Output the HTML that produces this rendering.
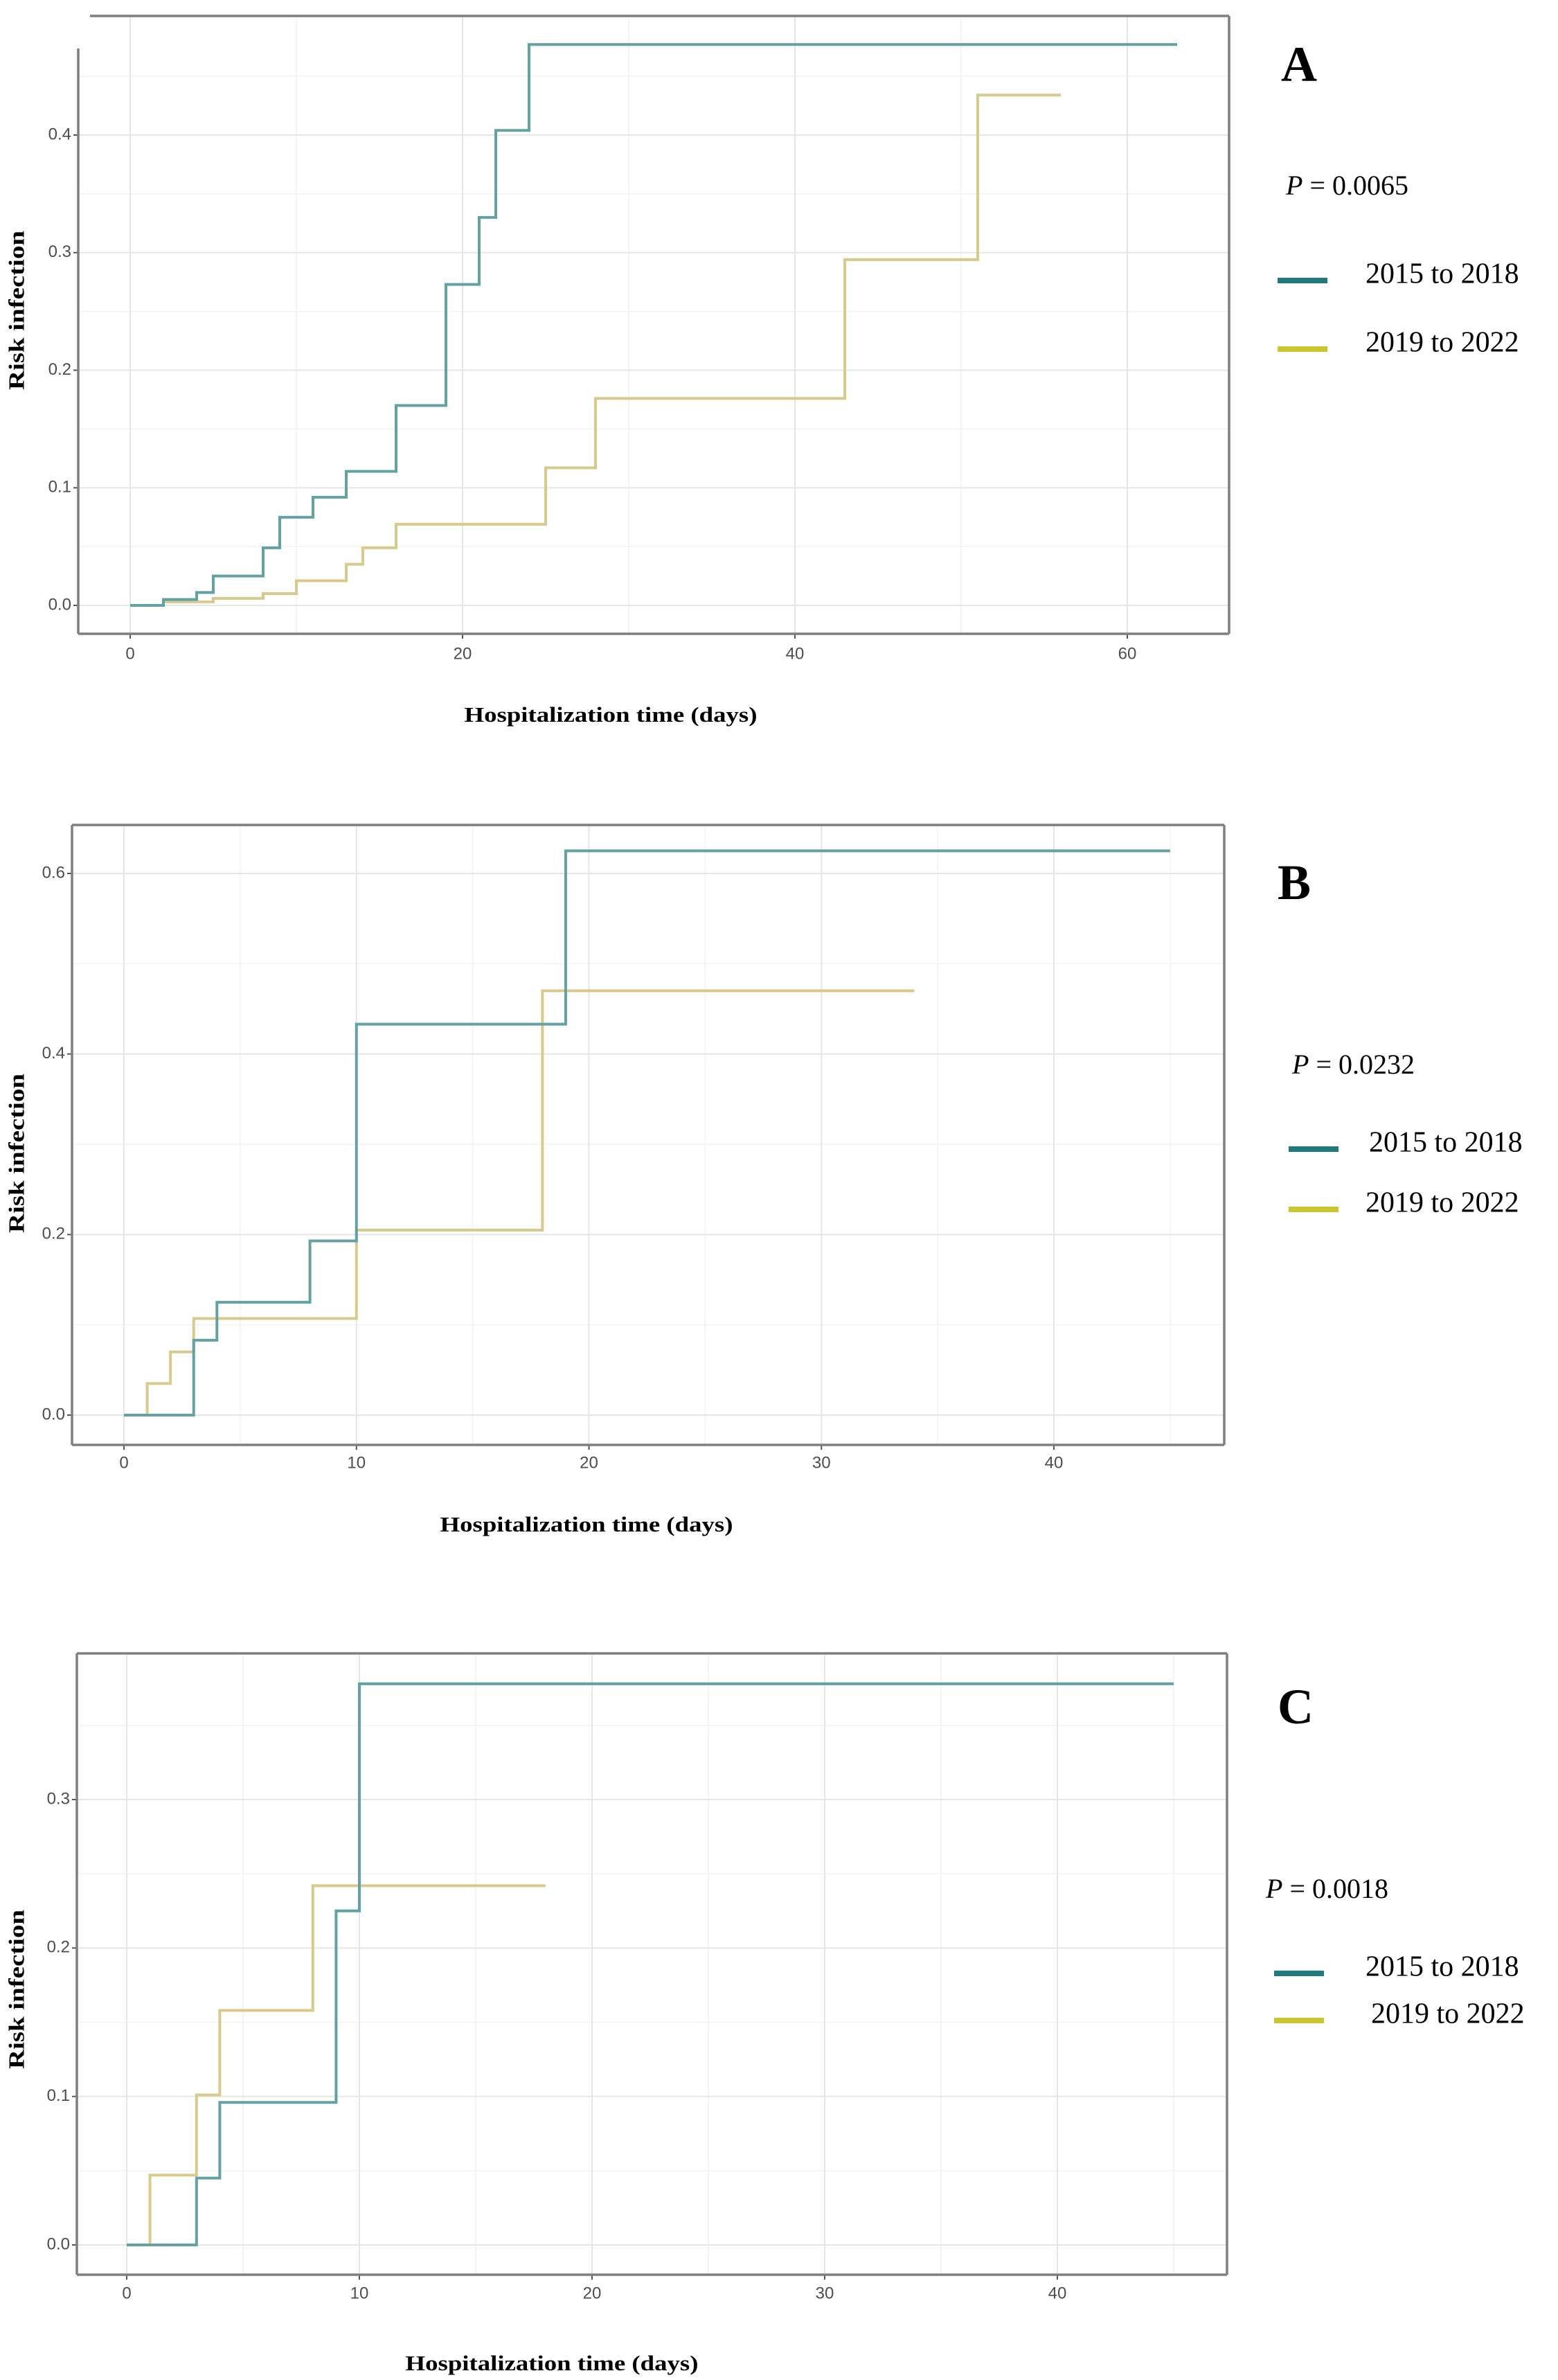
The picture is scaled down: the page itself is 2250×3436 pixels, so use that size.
<!DOCTYPE html>
<html><head><meta charset="utf-8">
<style>
html,body{margin:0;padding:0;background:#fff;}
svg{display:block;}
.tick{font-family:"Liberation Sans",sans-serif;font-size:24px;fill:#4d4d4d;}
.ttl{font-family:"Liberation Serif",serif;font-weight:bold;fill:#000;}
.leg{font-family:"Liberation Serif",serif;fill:#000;}
</style></head>
<body>
<svg id="chart" width="2250" height="3436" viewBox="0 0 2250 3436" xmlns="http://www.w3.org/2000/svg"></svg>
<script>
// Panel A data
const aTealX = [0,2,4,5,8,9,11,13,16,19,21,22,24,63];
const aTealY = [0,0.005,0.011,0.025,0.049,0.075,0.092,0.114,0.17,0.273,0.33,0.404,0.477,0.477];
const aYelX = [0,2,5,8,10,13,14,16,25,28,43,51,56];
const aYelY = [0,0.003,0.006,0.01,0.021,0.035,0.049,0.069,0.117,0.176,0.294,0.434,0.434];
const aXTicks = [0,20,40,60];
const aYTicks = [0,0.1,0.2,0.3,0.4];
const aXLabels = ["0","20","40","60"];
const aYLabels = ["0.0","0.1","0.2","0.3","0.4"];
const aP = "0.0065";
// Panel B data
const bTealX = [0,1,3,4,8,10,19,45];
const bTealY = [0,0,0.083,0.125,0.193,0.433,0.625,0.625];
const bYelX = [0,1,2,3,10,18,34];
const bYelY = [0,0.035,0.07,0.107,0.205,0.47,0.47];
const bXTicks = [0,10,20,30,40];
const bYTicks = [0,0.2,0.4,0.6];
const bXLabels = ["0","10","20","30","40"];
const bYLabels = ["0.0","0.2","0.4","0.6"];
const bP = "0.0232";
// Panel C data
const cTealX = [0,1,3,4,9,10,45];
const cTealY = [0,0,0.045,0.096,0.225,0.378,0.378];
const cYelX = [0,1,3,4,8,18];
const cYelY = [0,0.047,0.101,0.158,0.242,0.242];
const cXTicks = [0,10,20,30,40];
const cYTicks = [0,0.1,0.2,0.3];
const cXLabels = ["0","10","20","30","40"];
const cYLabels = ["0.0","0.1","0.2","0.3"];
const cP = "0.0018";

const NS = "http://www.w3.org/2000/svg";
const svg = document.getElementById("chart");
function mk(tag, attrs, parent){
  const e = document.createElementNS(NS, tag);
  for (const k in attrs) e.setAttribute(k, attrs[k]);
  (parent||svg).appendChild(e);
  return e;
}
function stepPath(xs, ys, sx, sy){
  let d = "M" + sx(xs[0]) + "," + sy(ys[0]);
  for (let i=1;i<xs.length;i++){
    d += " H" + sx(xs[i]) + " V" + sy(ys[i]);
  }
  return d;
}
function panel(cfg){
  const g = mk("g", {});
  
  
  const sx = v => cfg.x0 + (v - 0) * (cfg.x1 - cfg.x0) / cfg.xMaxTick;
  const sy = v => cfg.y0 - v * (cfg.y0 - cfg.y1) / cfg.yMaxTick;
  // minor grid
  const xStep = cfg.xTicks[1]-cfg.xTicks[0], yStep = cfg.yTicks[1]-cfg.yTicks[0];
  for (let v = xStep/2; sx(v) < cfg.R; v += xStep){
    const l = mk("line",{x1:sx(v),x2:sx(v),y1:cfg.T,y2:cfg.B,stroke:"#f2f2f2","stroke-width":1.5},g);
    
    
  }
  for (let v = yStep/2; sy(v) > cfg.T; v += yStep){
    const l = mk("line",{x1:cfg.L,x2:cfg.R,y1:sy(v),y2:sy(v),stroke:"#f2f2f2","stroke-width":1.5},g);
    
    
  }
  cfg.xTicks.forEach((v,i)=>{
    const l = mk("line",{x1:sx(v),x2:sx(v),y1:cfg.T,y2:cfg.B,stroke:"#e6e6e6","stroke-width":2},g);
    
    
    const t = mk("line",{x1:sx(v),x2:sx(v),y1:cfg.B,y2:cfg.B+7,stroke:"#555","stroke-width":2},g);
    
    
    const tx = mk("text",{x:sx(v),y:cfg.xLabY,"text-anchor":"middle","dominant-baseline":"middle",class:"tick"},g);
    tx.textContent = cfg.xLabels[i];
    
    
  });
  cfg.yTicks.forEach((v,i)=>{
    const l = mk("line",{x1:cfg.L,x2:cfg.R,y1:sy(v),y2:sy(v),stroke:"#e6e6e6","stroke-width":2},g);
    
    
    const t = mk("line",{x1:cfg.L-7,x2:cfg.L,y1:sy(v),y2:sy(v),stroke:"#555","stroke-width":2},g);
    
    
    const tx = mk("text",{x:cfg.L-10,y:sy(v),"text-anchor":"end","dominant-baseline":"middle",class:"tick"},g);
    tx.textContent = cfg.yLabels[i];
    
    
  });
  // curves
  const p2 = mk("path",{d:stepPath(cfg.yelX,cfg.yelY,sx,sy),fill:"none",stroke:"#d8c98c","stroke-width":4},g);
  
  
  const p1 = mk("path",{d:stepPath(cfg.tealX,cfg.tealY,sx,sy),fill:"none",stroke:"#62a2a2","stroke-width":4},g);
  
  
  // border
  const bs = {stroke:"#7f7f7f","stroke-width":3.5,fill:"none"};
  const topL = mk("line",Object.assign({x1:cfg.topStart,x2:cfg.R,y1:cfg.T,y2:cfg.T},bs),g);
  
  
  const rL = mk("line",Object.assign({x1:cfg.R,x2:cfg.R,y1:cfg.T,y2:cfg.B},bs),g);
  
  
  const bL = mk("line",Object.assign({x1:cfg.L,x2:cfg.R,y1:cfg.B,y2:cfg.B},bs),g);
  
  
  const lL = mk("line",Object.assign({x1:cfg.L,x2:cfg.L,y1:cfg.leftStart,y2:cfg.B},bs),g);
  
  
  // titles
  const xt = mk("text",{x:cfg.xTitleX,y:cfg.xTitleY,"text-anchor":"middle","dominant-baseline":"middle",class:"ttl","font-size":31,textLength:423,lengthAdjust:"spacingAndGlyphs"},g);
  xt.textContent = "Hospitalization time (days)";
  
  
  const yt = mk("text",{x:0,y:0,"text-anchor":"middle","dominant-baseline":"middle",class:"ttl","font-size":32,textLength:230,lengthAdjust:"spacingAndGlyphs",transform:"translate(27,"+cfg.yTitleY+") rotate(-90)"},g);
  yt.textContent = "Risk infection";
  
  
  const lab = mk("text",{x:cfg.labX,y:cfg.labY,class:"ttl","font-size":72},g);
  lab.textContent = cfg.letter;
  
  
  const p = mk("text",{x:cfg.pX,y:cfg.pY,"dominant-baseline":"middle",class:"leg","font-size":40},g);
  
  
  const pi = mk("tspan",{"font-style":"italic"},p); pi.textContent = "P";
  const pr = mk("tspan",{},p); pr.textContent = " = " + cfg.pv;
  // legend
  const leg = [["2015 to 2018","#1f7b7b",cfg.leg1Y,cfg.leg1TX],["2019 to 2022","#c9c62e",cfg.leg2Y,cfg.leg2TX]];
  leg.forEach((e,i)=>{
    const l = mk("line",{x1:cfg.legX,x2:cfg.legX+72,y1:e[2],y2:e[2],stroke:e[1],"stroke-width":8},g);
    
    
    const t = mk("text",{x:e[3],y:e[2]-6,"dominant-baseline":"middle",class:"leg","font-size":42},g);
    t.textContent = e[0];
    
    
  });
}
panel({name:"panel-a",letter:"A",pv:aP,L:113,R:1775,T:23,B:915,topStart:130,leftStart:70,
  x0:188,x1:1628,xMaxTick:60,y0:874,y1:195,yMaxTick:0.4,
  xTicks:aXTicks,yTicks:aYTicks,xLabels:aXLabels,yLabels:aYLabels,
  tealX:aTealX,tealY:aTealY,yelX:aYelX,yelY:aYelY,
  xLabY:945,xTitleX:882,xTitleY:1035,yTitleY:448,labX:1850,labY:117,
  pX:1857,pY:272,legX:1845,leg1Y:405,leg2Y:504,leg1TX:1972,leg2TX:1972});
panel({name:"panel-b",letter:"B",pv:bP,L:104,R:1768,T:1191,B:2086,topStart:104,leftStart:1191,
  x0:179,x1:1522,xMaxTick:40,y0:2043,y1:1261,yMaxTick:0.6,
  xTicks:bXTicks,yTicks:bYTicks,xLabels:bXLabels,yLabels:bYLabels,
  tealX:bTealX,tealY:bTealY,yelX:bYelX,yelY:bYelY,
  xLabY:2113,xTitleX:847,xTitleY:2204,yTitleY:1665,labX:1845,labY:1298,
  pX:1866,pY:1541,legX:1861,leg1Y:1659,leg2Y:1746,leg1TX:1977,leg2TX:1972});
panel({name:"panel-c",letter:"C",pv:cP,L:111,R:1772,T:2387,B:3284,topStart:111,leftStart:2387,
  x0:183,x1:1527,xMaxTick:40,y0:3241,y1:2598,yMaxTick:0.3,
  xTicks:cXTicks,yTicks:cYTicks,xLabels:cXLabels,yLabels:cYLabels,
  tealX:cTealX,tealY:cTealY,yelX:cYelX,yelY:cYelY,
  xLabY:3312,xTitleX:797,xTitleY:3415,yTitleY:2872,labX:1845,labY:2488,
  pX:1828,pY:2731,legX:1840,leg1Y:2849,leg2Y:2917,leg1TX:1972,leg2TX:1980});
</script>
</body></html>
